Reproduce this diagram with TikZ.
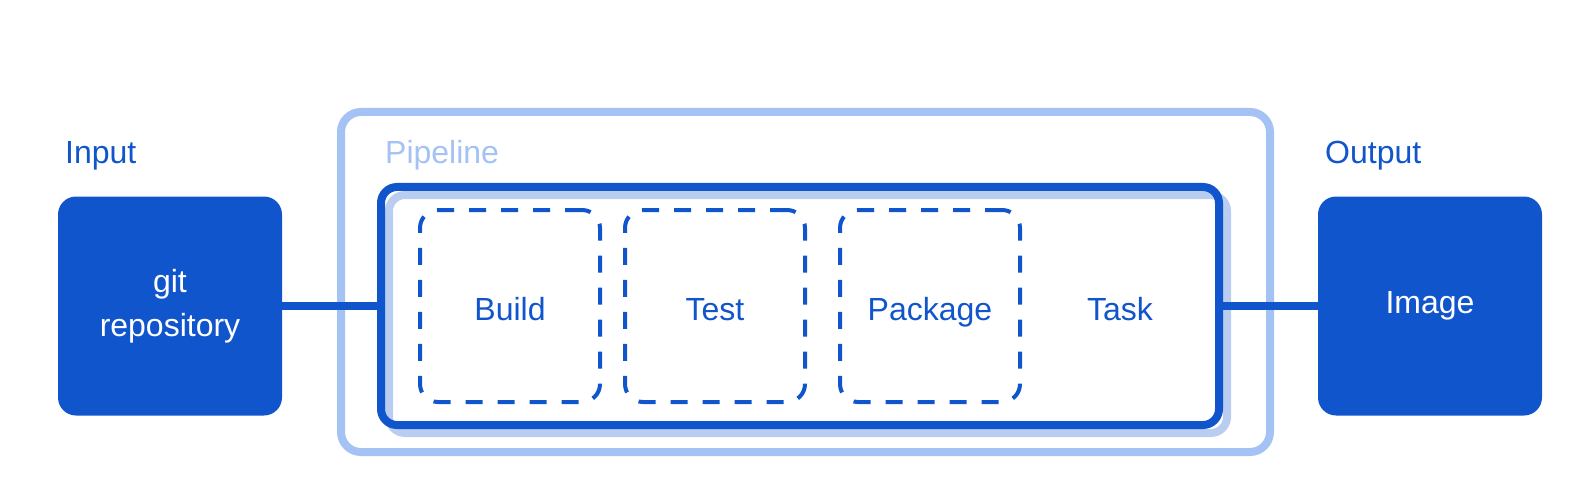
\documentclass[tikz,border=0pt]{standalone}
\usepackage{fontspec}
\setmainfont{Liberation Sans}
\definecolor{gcpblue}{HTML}{1155CC}
\definecolor{gcplight}{HTML}{A4C2F4}
\definecolor{gcpshadow}{HTML}{B8CDF0}

\begin{document}
\begin{tikzpicture}[x=1pt, y=-1pt, % 1pt 对应参考图的 1 像素
        every node/.style={font=\fontsize{32}{44}\selectfont, inner sep=0pt},
        iobox/.style={rectangle, rounded corners=18pt, fill=gcpblue, text=white,
            align=center, minimum width=224pt, minimum height=219pt},
        pipebox/.style={rectangle, rounded corners=20pt, draw=gcplight, line width=8pt,
            minimum width=929pt, minimum height=340pt},
        taskbox/.style={rectangle, rounded corners=16pt, line width=8pt,
            minimum width=838pt, minimum height=238pt},
        stagebox/.style={rectangle, rounded corners=18pt, draw=gcpblue, line width=4pt,
            dash pattern=on 17pt off 15pt, text=gcpblue, text height=29pt, text depth=0pt,
            minimum width=180pt, minimum height=192pt},
        title/.style={anchor=base west, text=gcpblue},
        link/.style={draw=gcpblue, line width=8pt}]
        \useasboundingbox (0,0) rectangle (1591,500);
        % 输入与输出
        \node[title] (inputtitle) at (65,164) {Input};
        \node[title] (outputtitle) at (1325,164) {Output};
        \node[iobox] (repo) at (170,306) {git\\repository};
        \node[iobox] (image) at (1430,306) {Image};
        % 流水线外框
        \node[pipebox] (pipeline) at (805.5,282) {};
        \node[title, text=gcplight] (pipetitle) at (385,164) {Pipeline};
        % 任务框(带浅色阴影)
        \node[taskbox, draw=gcpshadow] (taskshadow) at (808,314) {};
        \node[taskbox, draw=gcpblue] (task) at (800,306) {};
        \node[text=gcpblue, text height=29pt, text depth=0pt] (tasklabel) at (1120,306) {Task};
        % 各个步骤
        \foreach \name/\x/\txt in {build/510/Build, test/715/Test, package/930/Package} {
            \node[stagebox] (\name) at (\x,306) {\txt};
        }
        % 连线
        \draw[link] (repo.east) -- (task.west);
        \draw[link] (task.east) -- (image.west);
    \end{tikzpicture}
\end{document}
